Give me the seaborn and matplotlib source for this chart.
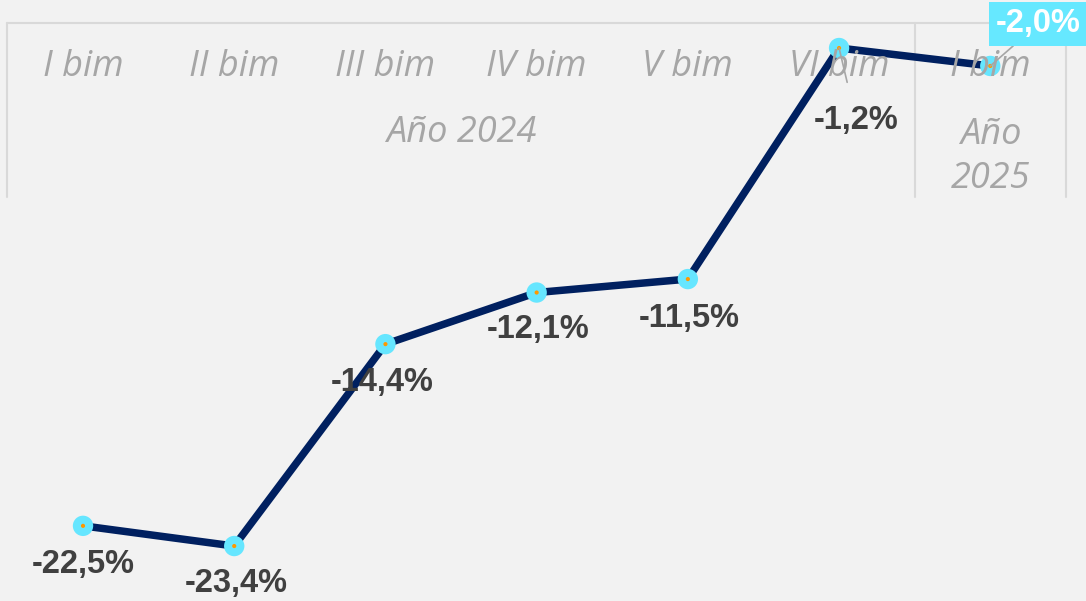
import numpy as np
import pandas as pd
import matplotlib
matplotlib.use('Agg')
import matplotlib.pyplot as plt
import seaborn as sns

# data
periods = ['I bim', 'II bim', 'III bim', 'IV bim', 'V bim', 'VI bim', 'I bim']
years = ['Año 2024', 'Año\n2025']
year_span = [6, 1]
values = [-22.5, -23.4, -14.4, -12.1, -11.5, -1.2, -2.0]
labels = ['-22,5%', '-23,4%', '-14,4%', '-12,1%', '-11,5%', '-1,2%', '-2,0%']

df = pd.DataFrame({'pos': range(len(values)), 'value': values})

bg = '#f2f2f2'
sns.set_style('white')
plt.rcParams['font.family'] = ['Liberation Sans', 'DejaVu Sans']

fig = plt.figure(figsize=(10.86, 6.01), dpi=100, facecolor=bg)
ax = fig.add_axes([0, 0, 1, 1])
ax.set_facecolor(bg)

sns.lineplot(data=df, x='pos', y='value', ax=ax, color='#002060', linewidth=5.4,
             solid_capstyle='round', zorder=2)
sns.scatterplot(data=df, x='pos', y='value', ax=ax, s=215, color='#66e6ff',
                edgecolor='none', zorder=3)
sns.scatterplot(data=df, x='pos', y='value', ax=ax, s=9, color='#ff9900',
                edgecolor='none', zorder=4)

ax.set_xlim(-0.549, 6.633)
ax.set_ylim(-25.85, 0.94)
ax.set_xlabel('')
ax.set_ylabel('')
ax.set_xticks([])
ax.set_yticks([])
for sp in ax.spines.values():
    sp.set_visible(False)

# category table at top
tr = ax.get_xaxis_transform()
grid_c = '#d9d9d9'
top, bot = 1 - 23 / 601, 1 - 197 / 601
ax.plot([-0.5, len(values) - 0.5], [top, top], transform=tr, color=grid_c, lw=1.5, zorder=1)
edge = -0.5
ax.plot([edge, edge], [top, bot], transform=tr, color=grid_c, lw=1.5, zorder=1)
for span in year_span:
    edge += span
    ax.plot([edge, edge], [top, bot], transform=tr, color=grid_c, lw=1.5, zorder=1)

cat_font = dict(family=['Open Sans', 'DejaVu Sans'], style='italic', color='#a6a6a6')
for i, p in enumerate(periods):
    ax.text(i, 1 - 67 / 601, p, transform=tr, ha='center', va='center', fontsize=26, **cat_font)
start = 0
for y, span in zip(years, year_span):
    c = start + (span - 1) / 2
    if '\n' in y:
        ax.text(c, 1 - 157 / 601, y, transform=tr, ha='center', va='center',
                fontsize=26, linespacing=1.3, **cat_font)
    else:
        ax.text(c, 1 - 133 / 601, y, transform=tr, ha='center', va='center', fontsize=26, **cat_font)
    start += span

# data labels
offsets = [(0, -39), (2, -37), (-3, -38), (1, -37), (1, -39), (17, -72), (48, 42)]
for i, (v, lab, off) in enumerate(zip(values, labels, offsets)):
    if i == len(values) - 1:
        ax.annotate(lab, (i, v), xytext=off, textcoords='offset pixels', ha='center', va='center',
                    fontsize=23.5, fontweight='bold', color='white',
                    bbox=dict(boxstyle='square,pad=0.2', fc='#66e8ff', ec='none'),
                    arrowprops=dict(arrowstyle='-', color='#a6a6a6', lw=1.2,
                                    shrinkA=0, shrinkB=0), zorder=5)
    elif i == len(values) - 2:
        ax.annotate(lab, (i, v), xytext=off, textcoords='offset pixels', ha='center', va='center',
                    fontsize=23.5, fontweight='bold', color='#404040',
                    arrowprops=dict(arrowstyle='-', color='#a6a6a6', lw=1.2,
                                    shrinkA=14, shrinkB=0), zorder=5)
    else:
        ax.annotate(lab, (i, v), xytext=off, textcoords='offset pixels', ha='center', va='center',
                    fontsize=23.5, fontweight='bold', color='#404040', zorder=5)

fig.savefig('out.png', dpi=100, facecolor=bg)
